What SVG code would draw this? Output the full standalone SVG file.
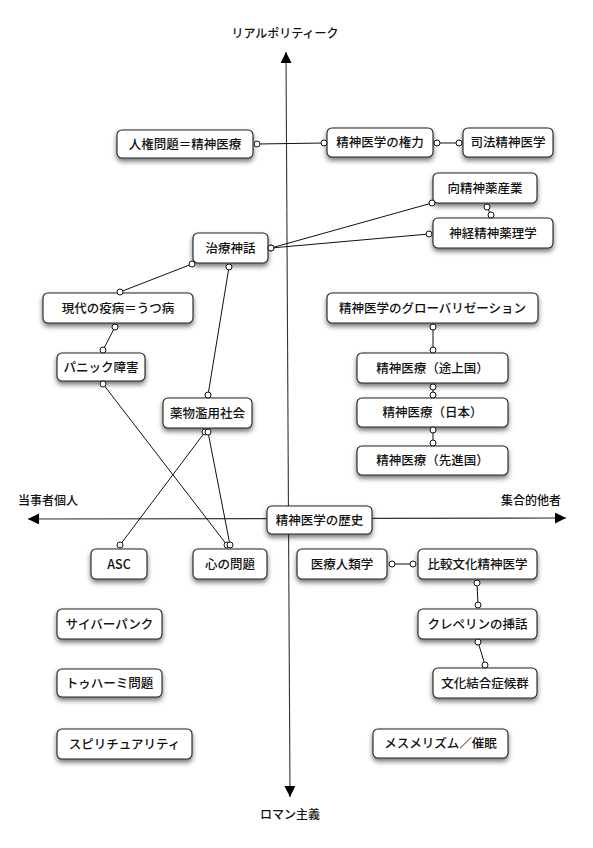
<svg xmlns="http://www.w3.org/2000/svg" width="593" height="848" viewBox="0 0 593 848">
<defs>
<filter id="sh" x="-20%" y="-30%" width="140%" height="180%">
<feDropShadow dx="0" dy="3" stdDeviation="2.5" flood-color="#000" flood-opacity="0.55"/>
</filter>
<marker id="ah" viewBox="0 0 10 10" refX="10" refY="5" markerWidth="11" markerHeight="11" markerUnits="userSpaceOnUse" orient="auto-start-reverse">
<path d="M0,0 L10,5 L0,10 z" fill="#000"/>
</marker>
</defs>
<style>
.n rect{fill:#fff;stroke:#222;stroke-width:1.1;filter:url(#sh)}
.n text{font-family:"Noto Sans CJK JP","Noto Sans",sans-serif;font-size:12.5px;font-weight:500;fill:#111;text-anchor:middle}
.lb{font-family:"Noto Sans CJK JP","Noto Sans",sans-serif;font-size:12px;font-weight:500;fill:#111}
.ax{stroke:#333;stroke-width:1.1;fill:none}
#connectors line{stroke:#111;stroke-width:1}
#connectors circle{fill:#fff;stroke:#111;stroke-width:1}
</style>
<rect width="593" height="848" fill="#fff"/>
<g id="axes">
<line class="ax" x1="286" y1="52" x2="290" y2="797" marker-start="url(#ah)" marker-end="url(#ah)"/>
<line class="ax" x1="28" y1="519" x2="566" y2="518" marker-start="url(#ah)" marker-end="url(#ah)"/>
<text class="lb" x="285" y="38" text-anchor="middle">リアルポリティーク</text>
<text class="lb" x="290" y="819" text-anchor="middle">ロマン主義</text>
<text class="lb" x="18" y="505">当事者個人</text>
<text class="lb" x="561" y="505" text-anchor="end">集合的他者</text>
</g>
<g id="n1" class="n"><rect x="117" y="130" width="136" height="28" rx="5"/><text x="185" y="148.5">人権問題＝精神医療</text></g>
<g id="n2" class="n"><rect x="327" y="128" width="106" height="29" rx="5"/><text x="380" y="147">精神医学の権力</text></g>
<g id="n3" class="n"><rect x="463" y="128" width="90" height="29" rx="5"/><text x="508" y="147">司法精神医学</text></g>
<g id="n4" class="n"><rect x="433" y="173" width="104" height="30" rx="5"/><text x="485" y="192.5">向精神薬産業</text></g>
<g id="n5" class="n"><rect x="433" y="218" width="120" height="30" rx="5"/><text x="493" y="237.5">神経精神薬理学</text></g>
<g id="n6" class="n"><rect x="193" y="233" width="75" height="30" rx="5"/><text x="230.5" y="252.5">治療神話</text></g>
<g id="n7" class="n"><rect x="43" y="293" width="150" height="30" rx="5"/><text x="118" y="312.5">現代の疫病＝うつ病</text></g>
<g id="n8" class="n"><rect x="327" y="293" width="211" height="30" rx="5"/><text x="432.5" y="312.5">精神医学のグローバリゼーション</text></g>
<g id="n9" class="n"><rect x="57" y="353" width="88" height="28" rx="5"/><text x="101" y="371.5">パニック障害</text></g>
<g id="n10" class="n"><rect x="357" y="353" width="151" height="30" rx="5"/><text x="432.5" y="372.5">精神医療（途上国）</text></g>
<g id="n11" class="n"><rect x="163" y="398" width="89" height="30" rx="5"/><text x="207.5" y="417.5">薬物濫用社会</text></g>
<g id="n12" class="n"><rect x="357" y="398" width="151" height="29" rx="5"/><text x="432.5" y="417">精神医療（日本）</text></g>
<g id="n13" class="n"><rect x="357" y="446" width="151" height="29" rx="5"/><text x="432.5" y="465">精神医療（先進国）</text></g>
<g id="n14" class="n"><rect x="267" y="506" width="105" height="28" rx="5"/><text x="319.5" y="524.5">精神医学の歴史</text></g>
<g id="n15" class="n"><rect x="91" y="549" width="56" height="30" rx="5"/><text x="119" y="568.5">ASC</text></g>
<g id="n16" class="n"><rect x="193" y="549" width="74" height="30" rx="5"/><text x="230" y="568.5">心の問題</text></g>
<g id="n17" class="n"><rect x="297" y="549" width="90" height="30" rx="5"/><text x="342" y="568.5">医療人類学</text></g>
<g id="n18" class="n"><rect x="418" y="549" width="119" height="30" rx="5"/><text x="477.5" y="568.5">比較文化精神医学</text></g>
<g id="n19" class="n"><rect x="418" y="609" width="119" height="30" rx="5"/><text x="477.5" y="628.5">クレペリンの挿話</text></g>
<g id="n20" class="n"><rect x="433" y="668" width="104" height="30" rx="5"/><text x="485" y="687.5">文化結合症候群</text></g>
<g id="n21" class="n"><rect x="57" y="609" width="105" height="30" rx="5"/><text x="109.5" y="628.5">サイバーパンク</text></g>
<g id="n22" class="n"><rect x="57" y="669" width="105" height="28" rx="5"/><text x="109.5" y="687.5">トゥハーミ問題</text></g>
<g id="n23" class="n"><rect x="57" y="729" width="135" height="30" rx="5"/><text x="124.5" y="748.5">スピリチュアリティ</text></g>
<g id="n24" class="n"><rect x="373" y="729" width="135" height="29" rx="5"/><text x="440.5" y="748">メスメリズム／催眠</text></g>
<g id="connectors">
<line x1="257" y1="144" x2="324" y2="143"/>
<line x1="437" y1="143" x2="459" y2="143"/>
<line x1="271" y1="248" x2="432" y2="203"/>
<line x1="271" y1="248" x2="429" y2="234"/>
<line x1="487" y1="207" x2="491" y2="215"/>
<line x1="192" y1="264" x2="120" y2="292"/>
<line x1="229" y1="267" x2="208" y2="395"/>
<line x1="115" y1="327" x2="103" y2="350"/>
<line x1="103" y1="384" x2="227" y2="545"/>
<line x1="205" y1="432" x2="120" y2="545"/>
<line x1="208" y1="432" x2="230" y2="545"/>
<line x1="433" y1="327" x2="433" y2="350"/>
<line x1="433" y1="387" x2="433" y2="395"/>
<line x1="433" y1="430" x2="433" y2="443"/>
<line x1="392" y1="564" x2="413" y2="564"/>
<line x1="477" y1="583" x2="478" y2="605"/>
<line x1="478" y1="642" x2="485" y2="665"/>
<circle cx="257" cy="144" r="3"/><circle cx="324" cy="143" r="3"/>
<circle cx="437" cy="143" r="3"/><circle cx="459" cy="143" r="3"/>
<circle cx="271" cy="248" r="3"/><circle cx="271" cy="248" r="3"/>
<circle cx="432" cy="203" r="3"/><circle cx="429" cy="234" r="3"/>
<circle cx="487" cy="207" r="3"/><circle cx="491" cy="215" r="3"/>
<circle cx="192" cy="264" r="3"/><circle cx="120" cy="292" r="3"/>
<circle cx="229" cy="267" r="3"/><circle cx="208" cy="395" r="3"/>
<circle cx="115" cy="327" r="3"/><circle cx="103" cy="350" r="3"/>
<circle cx="103" cy="384" r="3"/><circle cx="227" cy="545" r="3"/>
<circle cx="205" cy="432" r="3"/><circle cx="120" cy="545" r="3"/>
<circle cx="208" cy="432" r="3"/><circle cx="230" cy="545" r="3"/>
<circle cx="433" cy="327" r="3"/><circle cx="433" cy="350" r="3"/>
<circle cx="433" cy="387" r="3"/><circle cx="433" cy="395" r="3"/>
<circle cx="433" cy="430" r="3"/><circle cx="433" cy="443" r="3"/>
<circle cx="392" cy="564" r="3"/><circle cx="413" cy="564" r="3"/>
<circle cx="477" cy="583" r="3"/><circle cx="478" cy="605" r="3"/>
<circle cx="478" cy="642" r="3"/><circle cx="485" cy="665" r="3"/>
</g>
</svg>
